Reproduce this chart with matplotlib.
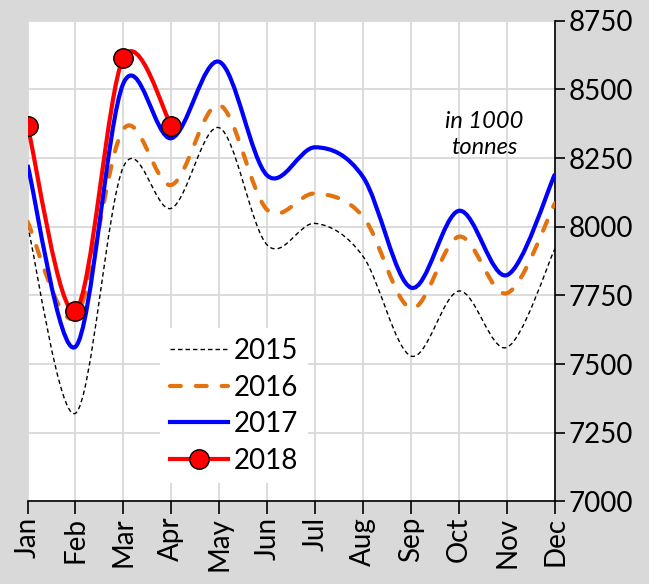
import numpy as np
from matplotlib import pyplot as plt
from matplotlib.path import Path
from matplotlib.patches import PathPatch
from matplotlib.lines import Line2D

months = ['Jan', 'Feb', 'Mar', 'Apr', 'May', 'Jun', 'Jul', 'Aug', 'Sep', 'Oct', 'Nov', 'Dec']
y2015 = [8005, 7321, 8218, 8067, 8360, 7933, 8012, 7891, 7529, 7766, 7561, 7921]
y2016 = [8018, 7670, 8355, 8152, 8443, 8061, 8121, 8036, 7703, 7964, 7758, 8086]
y2017 = [8225, 7563, 8522, 8322, 8600, 8186, 8289, 8180, 7778, 8058, 7824, 8192]
y2018 = [8368, 7694, 8615, 8368]

plt.rcParams['font.family'] = ['Lato', 'DejaVu Sans']


def smooth_path(vals):
    # excel-like smoothed line: cubic bezier with catmull-rom control points
    p = np.column_stack([np.arange(len(vals)), np.asarray(vals, float)])
    n = len(p)
    verts = [p[0]]
    codes = [Path.MOVETO]
    for i in range(n - 1):
        p0 = p[max(i - 1, 0)]
        p3 = p[min(i + 2, n - 1)]
        c1 = p[i] + (p[i + 1] - p0) / 6
        c2 = p[i + 1] - (p3 - p[i]) / 6
        verts += [c1, c2, p[i + 1]]
        codes += [Path.CURVE4] * 3
    return Path(verts, codes)


fig = plt.figure(figsize=(6.49, 5.84), dpi=100, facecolor='#D9D9D9')
ax = fig.add_axes([0.0424, 0.1413, 0.8128, 0.8234])
ax.set_xlim(0, 11)
ax.set_ylim(7000, 8750)

dash16 = (0, (2.6, 3.6))
styles = [
    (y2015, dict(color='black', lw=1.0, linestyle=(0, (3.2, 2.2)))),
    (y2016, dict(color='#E3720F', lw=3.0, linestyle=dash16, capstyle='round')),
    (y2017, dict(color='#0000FF', lw=3.0)),
    (y2018, dict(color='#FF0000', lw=3.0)),
]
for vals, kw in styles:
    ax.add_patch(PathPatch(smooth_path(vals), fill=False, zorder=3, **kw))
ax.plot(range(len(y2018)), y2018, 'o', ms=14, mfc='#FF0000', mec='black', mew=1, zorder=4)

ax.set_xticks(range(12))
ax.set_xticklabels(months, rotation=90, fontsize=20)
ax.set_yticks(np.arange(7000, 8751, 250))
ax.yaxis.tick_right()
ax.tick_params(axis='y', labelsize=20, length=7, pad=3, width=1.2)
ax.tick_params(axis='x', length=9, pad=2, width=1.2)
ax.grid(color='#D9D9D9', lw=1.3, zorder=0)
ax.set_axisbelow(True)
for s in ['left', 'top']:
    ax.spines[s].set_visible(False)
for s in ['right', 'bottom']:
    ax.spines[s].set_linewidth(1.2)

ax.text(9.52, 8334, 'in 1000\ntonnes', style='italic', fontsize=17,
        ha='center', va='center', linespacing=1.3)

handles = [
    Line2D([], [], color='black', lw=1.0, linestyle=(0, (3.2, 2.2))),
    Line2D([], [], color='#E3720F', lw=3.0, linestyle=dash16, dash_capstyle='round'),
    Line2D([], [], color='#0000FF', lw=3.0),
    Line2D([], [], color='#FF0000', lw=3.0, marker='o', ms=14, mfc='#FF0000', mec='black', mew=1),
]
leg = ax.legend(handles, ['2015', '2016', '2017', '2018'], loc='upper left',
                bbox_to_anchor=(0.251, 0.36), fontsize=20, frameon=True,
                facecolor='white', edgecolor='none', framealpha=1, fancybox=False,
                handlelength=2.1, handletextpad=0.22, labelspacing=0.38,
                borderpad=0.35, borderaxespad=0)
leg.set_zorder(5)

fig.savefig('out.png', dpi=100, facecolor=fig.get_facecolor())
